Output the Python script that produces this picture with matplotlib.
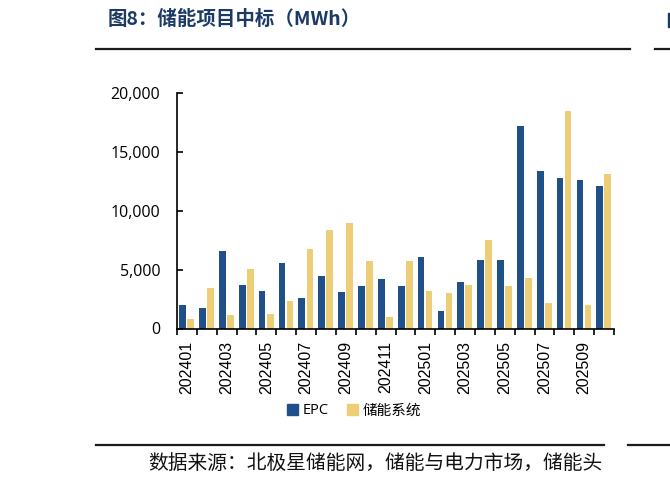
import matplotlib
matplotlib.use("Agg")
import matplotlib.pyplot as plt
from matplotlib.lines import Line2D
from matplotlib.patches import Patch, Rectangle
import numpy as np

plt.rcParams['font.family'] = ['Open Sans', 'Noto Sans CJK SC', 'DejaVu Sans']

months = ["202401", "202402", "202403", "202404", "202405", "202406", "202407", "202408",
          "202409", "202410", "202411", "202412", "202501", "202502", "202503", "202504",
          "202505", "202506", "202507", "202508", "202509", "202510"]
epc = [2000, 1700, 6600, 3700, 3150, 5550, 2550, 4500, 3100, 3600, 4200, 3600,
       6100, 1500, 3950, 5800, 5850, 17200, 13400, 12750, 12600, 12100]
system = [800, 3400, 1150, 5050, 1200, 2350, 6750, 8400, 9000, 5750, 1000, 5750,
          3200, 3050, 3700, 7500, 3650, 4250, 2200, 18500, 2000, 13100]
series_names = ["EPC", "储能系统"]
title = "图8：储能项目中标（MWh）"
source = "数据来源：北极星储能网，储能与电力市场，储能头"

c_epc = "#1F5089"
c_sys = "#EDCD76"

W, H = 670, 482
fig = plt.figure(figsize=(W / 100, H / 100), dpi=100)
ax = fig.add_axes([177 / W, 1 - 328.5 / H, (614 - 177) / W, (328.5 - 93) / H])

x = np.arange(len(months))
bw = 0.34
ax.bar(x - 0.215, epc, width=bw, color=c_epc, label=series_names[0])
ax.bar(x + 0.19, system, width=bw, color=c_sys, label=series_names[1])

ax.set_xlim(-0.5, len(months) - 0.5)
ax.set_ylim(0, 20000)
ax.set_yticks([0, 5000, 10000, 15000, 20000])
ax.set_yticklabels([f"{v:,}" for v in [0, 5000, 10000, 15000, 20000]], fontsize=11.5)
ax.tick_params(axis='y', direction='in', length=4, width=1.2, pad=12, colors='black')

# category ticks at boundaries, labels at every other category center
ax.set_xticks(np.arange(-0.5, len(months), 1.0), minor=False)
ax.set_xticklabels([])
ax.tick_params(axis='x', which='major', direction='out', length=4.5, width=1.2)
ax.set_xticks(x[::2], minor=True)
ax.set_xticklabels(months[::2], minor=True, rotation=90, fontsize=11.5,
                   family=['Liberation Sans', 'DejaVu Sans'])
ax.tick_params(axis='x', which='minor', length=0, pad=9)

for s in ['top', 'right']:
    ax.spines[s].set_visible(False)
for s in ['left', 'bottom']:
    ax.spines[s].set_linewidth(1.2)
    ax.spines[s].set_color('black')

handles = [Patch(color=c_epc), Patch(color=c_sys)]
fig.legend(handles, series_names, loc='center', bbox_to_anchor=(354 / W, 1 - 411 / H),
           ncol=2, frameon=False, fontsize=10.5, handlelength=0.75, handleheight=0.75,
           handletextpad=0.35, columnspacing=1.2)

fig.text(108 / W, 1 - 19 / H, title, fontsize=14, fontweight='bold', color='#1C3A66',
         ha='left', va='center', family=['Noto Sans CJK SC', 'DejaVu Sans'])
# edge of the neighbouring panel's title
fig.add_artist(Rectangle((668 / W, 1 - 27 / H), 2 / W, 14 / H, color='#1C3A66',
                         transform=fig.transFigure))

lc = '#1a1a1a'
fig.add_artist(Line2D([96 / W, 630 / W], [1 - 49 / H, 1 - 49 / H], color=lc, lw=1.6))
fig.add_artist(Line2D([655 / W, 1.0], [1 - 49 / H, 1 - 49 / H], color=lc, lw=1.6))
fig.add_artist(Line2D([96 / W, 604 / W], [1 - 445 / H, 1 - 445 / H], color=lc, lw=1.6))
fig.add_artist(Line2D([628 / W, 1.0], [1 - 445 / H, 1 - 445 / H], color=lc, lw=1.6))

fig.text(148 / W, 1 - 463 / H, source, fontsize=14.2, color='#111111', ha='left',
         va='center', family=['Noto Sans CJK SC', 'DejaVu Sans'])

fig.savefig("out.png", dpi=100)
